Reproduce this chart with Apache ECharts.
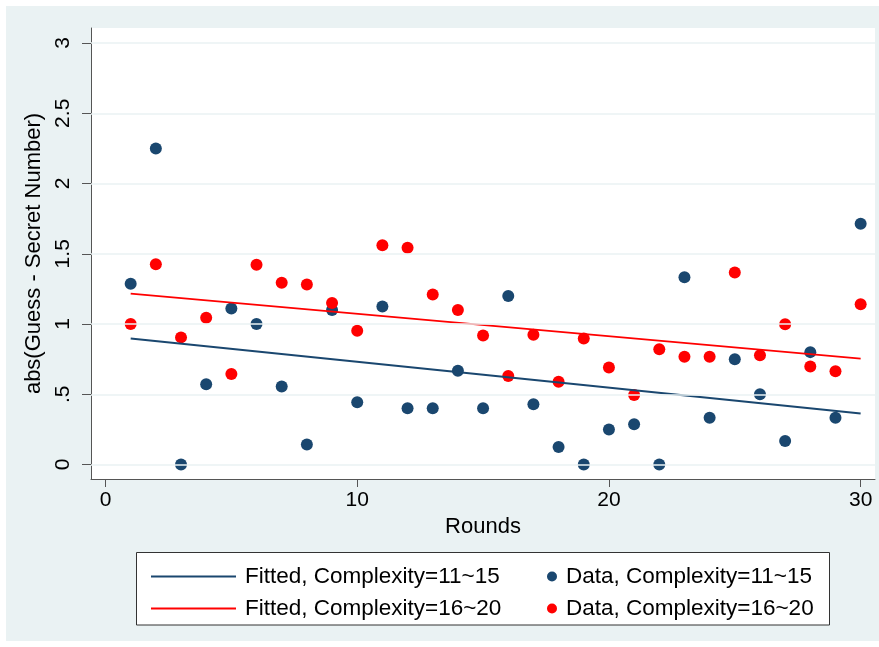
<!DOCTYPE html>
<html>
<head>
<meta charset="utf-8">
<script src="https://cdn.jsdelivr.net/npm/echarts@6/dist/echarts.min.js"></script>
<style>
html,body{margin:0;padding:0;background:#fff;}
#c{width:879px;height:647px;}
</style>
</head>
<body>
<div id="c"></div>
<script>
const rounds = [1,2,3,4,5,6,7,8,9,10,11,12,13,14,15,16,17,18,19,20,21,22,23,24,25,26,27,28,29,30];
const dataLow = [1.286,2.25,0,0.571,1.111,1.0,0.556,0.143,1.1,0.444,1.125,0.4,0.4,0.667,0.4,1.2,0.429,0.125,0,0.25,0.286,0,1.333,0.333,0.75,0.5,0.167,0.8,0.333,1.714];
const dataHigh = [1.0,1.425,0.905,1.045,0.644,1.422,1.294,1.282,1.15,0.952,1.56,1.543,1.211,1.1,0.919,0.63,0.924,0.589,0.897,0.69,0.495,0.82,0.767,0.767,1.366,0.778,0.998,0.697,0.664,1.14];
const fitRounds = [1,30];
const fitLow = [0.897,0.363];
const fitHigh = [1.217,0.754];
const xTicks = [0,10,20,30];
const yTicks = [0,0.5,1,1.5,2,2.5,3];
const yTickLabels = ['0','.5','1','1.5','2','2.5','3'];
const names = ['Fitted, Complexity=11~15','Data, Complexity=11~15','Fitted, Complexity=16~20','Data, Complexity=16~20'];

const FONT = 'Liberation Sans, Arial, sans-serif';
const NAVY = '#1a476f';
const RED = '#ff0000';
const pair = (xs, ys) => xs.map((x, i) => [x, ys[i]]);

const chart = echarts.init(document.getElementById('c'), null, {renderer: 'canvas'});
chart.setOption({
  animation: false,
  backgroundColor: 'transparent',
  textStyle: {fontFamily: FONT},
  graphic: [
    {type: 'rect', z: -100, shape: {x: 6, y: 6, width: 873, height: 635}, style: {fill: '#eaf2f3'}, silent: true},
    {type: 'rect', z: 1, shape: {x: 136.5, y: 552.5, width: 693, height: 72.5}, style: {fill: '#fff', stroke: '#333', lineWidth: 1}, silent: true}
  ],
  grid: {left: 91, top: 28, right: 4, bottom: 168, show: true, backgroundColor: '#fff', borderWidth: 0},
  xAxis: {
    type: 'value', min: -0.576, max: 30.57,
    axisLine: {show: true, onZero: false, lineStyle: {color: '#555', width: 1}},
    axisTick: {show: true, length: 8, customValues: xTicks, lineStyle: {color: '#555'}},
    axisLabel: {customValues: xTicks, fontSize: 21, color: '#000', margin: 11, fontFamily: FONT},
    splitLine: {show: false},
    name: 'Rounds', nameLocation: 'middle', nameGap: 33,
    nameTextStyle: {fontSize: 22, color: '#000', fontFamily: FONT}
  },
  yAxis: {
    type: 'value', min: -0.103, max: 3.107,
    axisLine: {show: true, onZero: false, lineStyle: {color: '#555', width: 1}},
    axisTick: {show: true, length: 9, customValues: yTicks, lineStyle: {color: '#555'}},
    axisLabel: {customValues: yTicks, rotate: 90, fontSize: 21, color: '#000', margin: 17, fontFamily: FONT,
      formatter: v => { const i = yTicks.findIndex(t => Math.abs(t - v) < 1e-6); return i >= 0 ? yTickLabels[i] : ''; }},
    splitLine: {show: false},
    name: 'abs(Guess - Secret Number)', nameLocation: 'middle', nameGap: 42, nameRotate: 90,
    nameTextStyle: {fontSize: 22, color: '#000', fontFamily: FONT}
  },
  legend: [
    {
      data: [{name: names[0], icon: 'rect'}, {name: names[2], icon: 'rect'}],
      orient: 'vertical', left: 146, top: 560, itemGap: 9,
      itemWidth: 85, itemHeight: 2, selectedMode: false,
      textStyle: {fontSize: 22.5, color: '#000', fontFamily: FONT, padding: [0,0,0,4]}
    },
    {
      data: [{name: names[1], icon: 'circle'}, {name: names[3], icon: 'circle'}],
      orient: 'vertical', left: 542, top: 560, itemGap: 9,
      itemWidth: 10, itemHeight: 10, selectedMode: false,
      textStyle: {fontSize: 22.5, color: '#000', fontFamily: FONT, padding: [0,0,0,4]}
    }
  ],
  series: [
    {
      name: 'grid', type: 'line', data: [], silent: true,
      markLine: {silent: true, symbol: 'none', label: {show: false}, animation: false,
        lineStyle: {color: '#eaf2f3', width: 1.5, type: 'solid'},
        data: yTicks.map(v => ({yAxis: v}))}
    },
    {
      name: names[0], type: 'line', data: pair(fitRounds, fitLow), symbol: 'none',
      lineStyle: {color: NAVY, width: 2}, itemStyle: {color: NAVY}, silent: true
    },
    {
      name: names[1], type: 'scatter', data: pair(rounds, dataLow), symbol: 'circle', symbolSize: 12,
      itemStyle: {color: NAVY, opacity: 1}, silent: true
    },
    {
      name: names[2], type: 'line', data: pair(fitRounds, fitHigh), symbol: 'none',
      lineStyle: {color: RED, width: 1.8}, itemStyle: {color: RED}, silent: true
    },
    {
      name: names[3], type: 'scatter', data: pair(rounds, dataHigh), symbol: 'circle', symbolSize: 12,
      itemStyle: {color: RED, opacity: 1}, silent: true
    }
  ]
});
</script>
</body>
</html>
